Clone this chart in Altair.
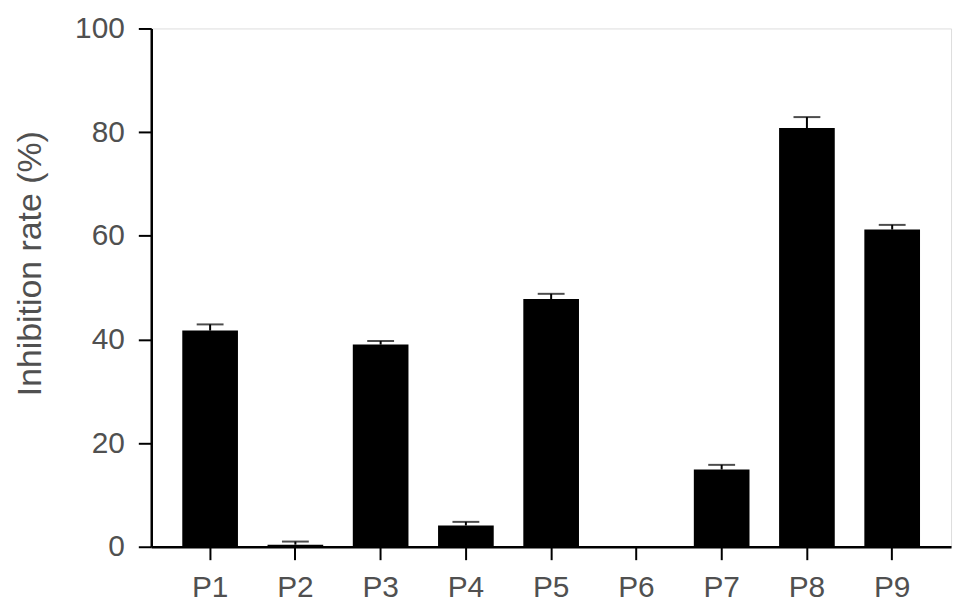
import altair as alt
import pandas as pd

groups = ["P1", "P2", "P3", "P4", "P5", "P6", "P7", "P8", "P9"]
means = [41.7, 0.4, 39.0, 4.1, 47.8, 0.0, 14.9, 80.8, 61.2]
sems = [1.2, 0.6, 0.7, 0.7, 1.0, 0.0, 0.9, 2.1, 0.9]

df = pd.DataFrame({"group": groups, "mean": means, "sem": sems})
df["upper"] = df["mean"] + df["sem"]

FONT = "Liberation Sans"
TXT = "#505050"

x = alt.X(
    "group:N",
    sort=groups,
    scale=alt.Scale(paddingInner=0.347, paddingOuter=0.364),
    axis=alt.Axis(
        title=None, labelAngle=0, labelFontSize=30, labelFont=FONT,
        labelColor=TXT, labelPadding=13, tickSize=13, tickWidth=2,
        tickColor="black", domainColor="black", domainWidth=2.5,
    ),
)
y_scale = alt.Scale(domain=[0, 100], nice=False)

bars = alt.Chart(df).mark_bar(color="black").encode(
    x=x,
    y=alt.Y(
        "mean:Q",
        scale=y_scale,
        axis=alt.Axis(
            title="Inhibition rate (%)", values=[0, 20, 40, 60, 80, 100],
            grid=False, labelFontSize=30, labelFont=FONT, labelColor=TXT,
            labelPadding=14, tickSize=13, tickWidth=2, tickColor="black",
            domainColor="black", domainWidth=2.5, titleFontSize=34,
            titleFont=FONT, titleColor=TXT, titleFontWeight="normal",
            titleAngle=270, titleX=-121, titleY=236, titleBaseline="middle",
            titleAlign="center",
        ),
    ),
)

err_df = df[df["sem"] > 0]
stems = alt.Chart(err_df).mark_rule(color="black", strokeWidth=2).encode(
    x=alt.X("group:N", sort=groups),
    y=alt.Y("mean:Q", scale=y_scale),
    y2="upper:Q",
)
caps = alt.Chart(err_df).mark_tick(color="black", thickness=2, size=27).encode(
    x=alt.X("group:N", sort=groups),
    y=alt.Y("upper:Q", scale=y_scale),
)

chart = (
    alt.layer(bars, stems, caps)
    .properties(
        width=804, height=521,
        autosize=alt.AutoSizeParams(type="none"),
        padding={"left": 144, "top": 19, "right": 10, "bottom": 60},
    )
    .configure_view(strokeWidth=0)
    .configure(background="white")
)

chart.save("out.html", embed_options={"renderer": "svg", "actions": False})
